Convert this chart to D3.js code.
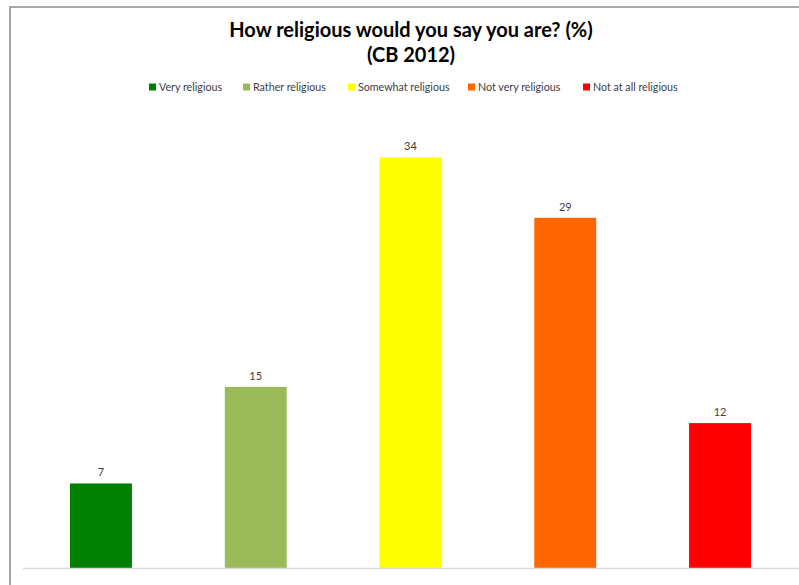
<!DOCTYPE html>
<html lang="en">
<head>
<meta charset="UTF-8" />
<title>How religious would you say you are?</title>
<script src="https://cdn.jsdelivr.net/npm/d3@7"></script>
<style>
  html, body { margin: 0; padding: 0; background: #fff; }
  svg { display: block; }
  text { font-family: Lato, 'Open Sans', sans-serif; }
  .title { font-size: 20px; font-weight: 700; fill: #000; }
  .legend text { font-size: 10.7px; fill: #404040; }
  .label { font-size: 11px; fill: #404040; }
</style>
</head>
<body>
<div id="container"></div>
<script>
// data
var categories = ['Very religious', 'Rather religious', 'Somewhat religious', 'Not very religious', 'Not at all religious'];
var values = [7, 15, 34, 29, 12];
var colors = ['#008000', '#9bbb59', '#ffff00', '#ff6600', '#ff0000'];
var titleLines = ['How religious would you say you are? (%)', '(CB 2012)'];

const W = 799, H = 585;
const svg = d3.select('#container').append('svg')
  .attr('width', W)
  .attr('height', H);

// frame (left + top border)
svg.append('path')
  .attr('d', 'M10,' + H + ' V7 H' + W)
  .attr('fill', 'none')
  .attr('stroke', '#8c8c8c')
  .attr('stroke-width', 1.5);

const xScale = d3.scaleBand()
  .domain(categories)
  .range([23.6, 797.4])
  .paddingInner(0.6)
  .paddingOuter(0.3);

const yScale = d3.scaleLinear()
  .domain([0, 40])
  .range([568, 85]);

// title
svg.selectAll('.title')
  .data(titleLines)
  .enter()
  .append('text')
  .attr('class', 'title')
  .attr('x', 411)
  .attr('y', (d, i) => 37 + i * 25)
  .attr('text-anchor', 'middle')
  .text(d => d);

// legend
var legendX = [149, 243, 348, 468, 583];
const legend = svg.append('g').attr('class', 'legend');
const items = legend.selectAll('g')
  .data(categories)
  .enter()
  .append('g')
  .attr('transform', (d, i) => `translate(${legendX[i]}, 87)`);
items.append('rect')
  .attr('x', 0)
  .attr('y', -3.5)
  .attr('width', 7)
  .attr('height', 7)
  .attr('fill', (d, i) => colors[i]);
items.append('text')
  .attr('x', 10)
  .attr('y', 4)
  .text(d => d);

// bars
svg.selectAll('.bar')
  .data(values)
  .enter()
  .append('rect')
  .attr('class', 'bar')
  .attr('x', (d, i) => xScale(categories[i]))
  .attr('y', d => yScale(d))
  .attr('width', xScale.bandwidth())
  .attr('height', d => yScale(0) - yScale(d))
  .attr('fill', (d, i) => colors[i]);

// baseline
svg.append('g')
  .attr('transform', `translate(0, ${yScale(0)})`)
  .call(d3.axisBottom(xScale).tickSize(0).tickFormat(''))
  .call(g => g.select('.domain').attr('stroke', '#d9d9d9').attr('stroke-width', 1.5)
    .attr('d', 'M23,0.5H' + W));

// value labels
svg.selectAll('.label')
  .data(values)
  .enter()
  .append('text')
  .attr('class', 'label')
  .attr('x', (d, i) => xScale(categories[i]) + xScale.bandwidth() / 2)
  .attr('y', d => yScale(d) - 7)
  .attr('text-anchor', 'middle')
  .text(d => d);
</script>
</body>
</html>
